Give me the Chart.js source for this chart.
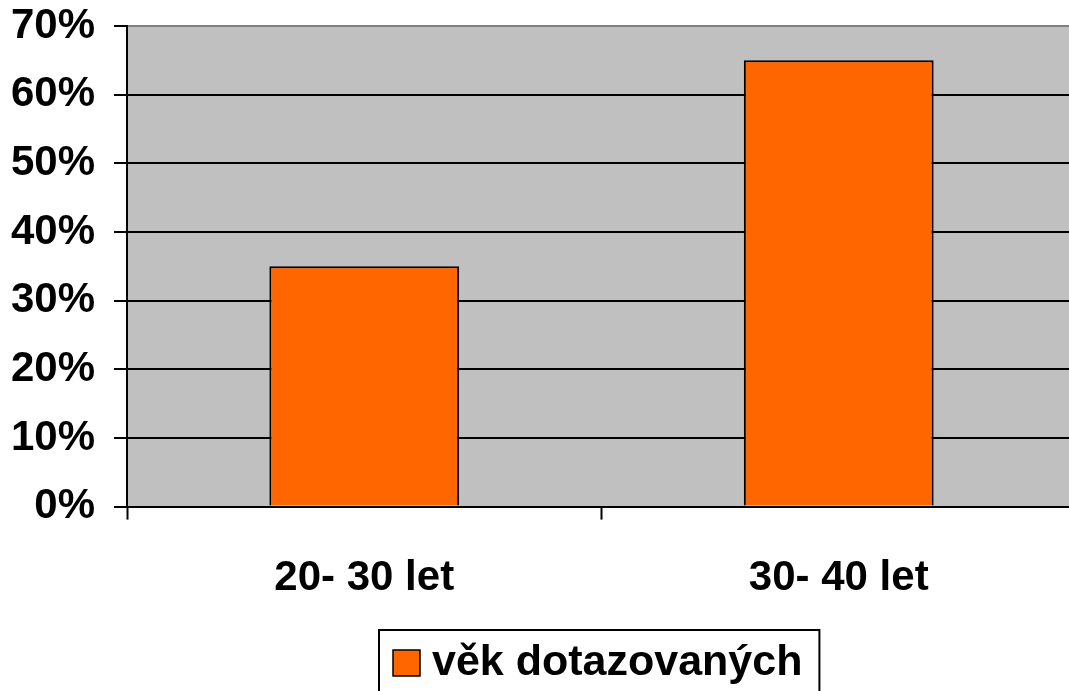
<!DOCTYPE html>
<html>
<head>
<meta charset="utf-8">
<script src="https://cdn.jsdelivr.net/npm/chart.js@4/dist/chart.umd.min.js"></script>
<style>
  html, body { margin: 0; padding: 0; background: #fff; overflow: hidden; }
  #wrap { position: relative; width: 1076px; height: 691px; }
</style>
</head>
<body>
<div id="wrap"><canvas id="chart"></canvas></div>
<script>
var categories = ['20- 30 let', '30- 40 let'];
var seriesName = 'věk dotazovaných';
var seriesValues = [0.35, 0.65];
var yTicks = [0, 0.1, 0.2, 0.3, 0.4, 0.5, 0.6, 0.7];

var fontFamily = 'Arial, "Liberation Sans", sans-serif';

// grey plot area behind the bars
var plotBackground = {
  id: 'plotBackground',
  beforeDraw: function(chart){
    var a = chart.chartArea, ctx = chart.ctx;
    ctx.save();
    ctx.fillStyle = '#c0c0c0';
    ctx.fillRect(a.left, a.top, a.right - a.left, a.bottom - a.top);
    ctx.restore();
  }
};

// framed legend below the axis, like the old office chart
var framedLegend = {
  id: 'framedLegend',
  afterDraw: function(chart){
    var ctx = chart.ctx;
    var ds = chart.data.datasets[0];
    var left = 379, top = 630;
    ctx.save();
    ctx.font = 'bold 43px ' + fontFamily;
    var tw = ctx.measureText(ds.label).width;
    ctx.strokeStyle = '#000';
    ctx.lineWidth = 2;
    ctx.strokeRect(left, top, 14 + 27 + 12 + tw + 17, 90);
    ctx.fillStyle = ds.backgroundColor;
    ctx.fillRect(left + 14, top + 20, 27, 26);
    ctx.lineWidth = 1.5;
    ctx.strokeRect(left + 14, top + 20, 27, 26);
    ctx.fillStyle = '#000';
    ctx.textBaseline = 'alphabetic';
    ctx.fillText(ds.label, left + 14 + 27 + 12, top + 45);
    ctx.restore();
  }
};

var ctx = document.getElementById('chart').getContext('2d');
var chart = new Chart(ctx, {
  type: 'bar',
  data: {
    labels: categories,
    datasets: [{
      label: seriesName,
      data: seriesValues,
      backgroundColor: '#ff6600',
      borderColor: '#000',
      borderWidth: 2,
      categoryPercentage: 1,
      barPercentage: 0.4
    }]
  },
  plugins: [plotBackground, framedLegend],
  options: {
    responsive: true,
    maintainAspectRatio: false,
    animation: false,
    layout: { autoPadding: false, padding: { top: 26, right: 0, left: 0, bottom: 53 } },
    plugins: {
      title: { display: false },
      tooltip: { enabled: false },
      legend: { display: false }
    },
    scales: {
      x: {
        afterFit: function(scale){ scale.paddingLeft = 0; scale.paddingRight = 0; },
        grid: {
          drawOnChartArea: false,
          drawTicks: true,
          tickLength: 13,
          tickColor: '#000',
          tickWidth: 2,
          color: '#000'
        },
        border: { display: true, color: '#000', width: 2 },
        ticks: {
          color: '#000',
          font: { family: fontFamily, weight: 'bold', size: 42 },
          padding: 34
        }
      },
      y: {
        min: 0,
        max: 0.7,
        afterFit: function(scale){
          scale.width = 127;
          scale.paddingTop = 0;
          scale.paddingBottom = 0;
        },
        afterBuildTicks: function(scale){
          scale.ticks = yTicks.map(function(v){ return { value: v }; });
        },
        grid: {
          color: function(c){ return c.tick && c.tick.value >= 0.7 ? '#808080' : '#000'; },
          lineWidth: 2,
          tickLength: 13,
          tickColor: '#000',
          tickWidth: 2
        },
        border: { display: true, color: '#000', width: 2 },
        ticks: {
          color: '#000',
          font: { family: fontFamily, weight: 'bold', size: 42 },
          padding: 19,
          callback: function(v){ return Math.round(v * 100) + '%'; }
        }
      }
    }
  }
});
</script>
</body>
</html>
